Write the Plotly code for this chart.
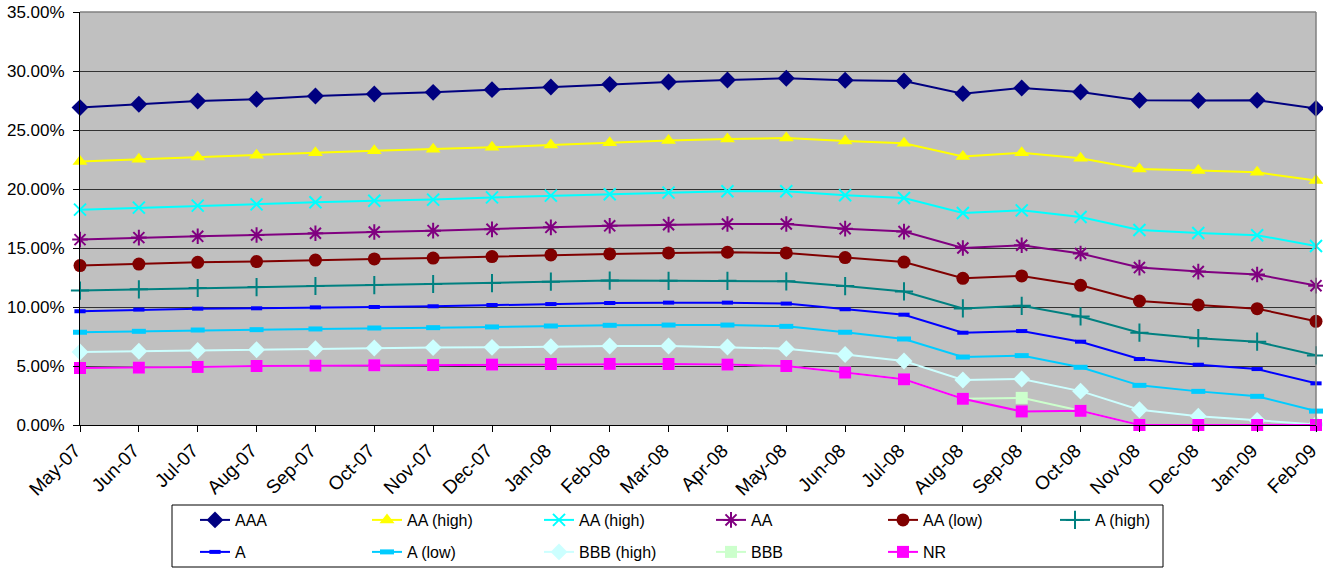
import plotly.graph_objects as go

months = ["May-07", "Jun-07", "Jul-07", "Aug-07", "Sep-07", "Oct-07", "Nov-07", "Dec-07",
          "Jan-08", "Feb-08", "Mar-08", "Apr-08", "May-08", "Jun-08", "Jul-08", "Aug-08",
          "Sep-08", "Oct-08", "Nov-08", "Dec-08", "Jan-09", "Feb-09"]

aaa = [26.90, 27.18, 27.46, 27.60, 27.88, 28.05, 28.19, 28.42, 28.65, 28.87, 29.07, 29.24,
       29.38, 29.21, 29.15, 28.08, 28.56, 28.22, 27.52, 27.50, 27.52, 26.83]
aa_high_y = [22.32, 22.52, 22.71, 22.86, 23.08, 23.25, 23.36, 23.53, 23.73, 23.93, 24.10, 24.24,
             24.32, 24.07, 23.87, 22.75, 23.08, 22.60, 21.69, 21.56, 21.41, 20.71]
aa_high_c = [18.25, 18.42, 18.59, 18.70, 18.87, 19.01, 19.10, 19.29, 19.44, 19.56, 19.69, 19.81,
             19.81, 19.47, 19.24, 17.97, 18.19, 17.63, 16.53, 16.27, 16.08, 15.17]
aa = [15.71, 15.88, 15.99, 16.10, 16.25, 16.36, 16.47, 16.58, 16.75, 16.88, 16.98, 17.03,
      17.03, 16.64, 16.39, 15.00, 15.23, 14.53, 13.34, 13.00, 12.75, 11.81]
aa_low = [13.51, 13.64, 13.79, 13.85, 13.98, 14.07, 14.15, 14.27, 14.41, 14.50, 14.58, 14.64,
          14.58, 14.19, 13.81, 12.43, 12.63, 11.84, 10.51, 10.18, 9.86, 8.79]
a_high = [11.39, 11.50, 11.61, 11.69, 11.78, 11.86, 11.95, 12.03, 12.15, 12.24, 12.22, 12.22,
          12.18, 11.77, 11.32, 9.88, 10.10, 9.20, 7.82, 7.36, 7.06, 5.90]
a_mid = [9.64, 9.78, 9.86, 9.89, 9.97, 10.00, 10.06, 10.17, 10.25, 10.34, 10.37, 10.37,
         10.29, 9.81, 9.35, 7.82, 7.96, 7.06, 5.59, 5.11, 4.74, 3.53]
a_low = [7.86, 7.94, 8.05, 8.08, 8.14, 8.22, 8.25, 8.31, 8.39, 8.45, 8.47, 8.47,
         8.36, 7.86, 7.29, 5.76, 5.88, 4.89, 3.36, 2.85, 2.43, 1.18]
bbb_high = [6.19, 6.25, 6.31, 6.38, 6.47, 6.52, 6.56, 6.58, 6.64, 6.69, 6.69, 6.61,
            6.47, 5.98, 5.42, 3.81, 3.90, 2.87, 1.29, 0.75, 0.38, 0.05]
bbb = [4.83, 4.86, 4.92, 5.00, 5.03, 5.06, 5.08, 5.12, 5.17, 5.18, 5.17, 5.12,
       5.00, 4.44, 3.87, 2.22, 2.30, 1.20, 0.00, 0.00, 0.00, 0.00]
nr = [4.83, 4.86, 4.92, 5.00, 5.03, 5.06, 5.08, 5.12, 5.17, 5.18, 5.17, 5.12,
      5.00, 4.44, 3.87, 2.22, 1.15, 1.20, 0.00, 0.00, 0.00, 0.00]

series = [
    ("AAA", aaa, "#000080", dict(symbol="diamond", size=13), "legend"),
    ("AA (high)", aa_high_y, "#FFFF00", dict(symbol="triangle-up", size=13), "legend"),
    ("AA (high)", aa_high_c, "#00FFFF", dict(symbol="x-thin-open", size=12, line=dict(width=2, color="#00FFFF")), "legend"),
    ("AA", aa, "#800080", dict(symbol="asterisk-open", size=13, line=dict(width=2, color="#800080")), "legend"),
    ("AA (low)", aa_low, "#800000", dict(symbol="circle", size=13), "legend"),
    ("A (high)", a_high, "#008080", dict(symbol="cross-thin-open", size=13, line=dict(width=2, color="#008080")), "legend"),
    ("A", a_mid, "#0000FF", dict(symbol="line-ew-open", size=8, line=dict(width=4, color="#0000FF")), "legend2"),
    ("A (low)", a_low, "#00CCFF", dict(symbol="line-ew-open", size=10, line=dict(width=5, color="#00CCFF")), "legend2"),
    ("BBB (high)", bbb_high, "#CCFFFF", dict(symbol="diamond", size=13), "legend2"),
    ("BBB", bbb, "#CCFFCC", dict(symbol="square", size=12), "legend2"),
    ("NR", nr, "#FF00FF", dict(symbol="square", size=12), "legend2"),
]

fig = go.Figure()
for name, vals, color, mk, lg in series:
    m = dict(color=color, **mk)
    fig.add_trace(go.Scatter(x=months, y=vals, name=name, mode="lines+markers",
                             line=dict(color=color, width=2), marker=m,
                             cliponaxis=False, legend=lg))

FONT = "Liberation Sans, Arial, sans-serif"
W, H = 1323, 571
PLOT_L, PLOT_R, PLOT_T, PLOT_B = 80, 1316, 12, 425
L, R, T, B = PLOT_L, W - PLOT_R, PLOT_T, H - PLOT_B
pw, ph = PLOT_R - PLOT_L, PLOT_B - PLOT_T

def px(xpix):
    return (xpix - PLOT_L) / pw

def py(ypix):
    return (PLOT_B - ypix) / ph

legend_common = dict(orientation="h", xanchor="left", yanchor="top",
                     font=dict(family=FONT, size=16, color="#000000"),
                     bgcolor="rgba(0,0,0,0)", borderwidth=0,
                     entrywidth=127, entrywidthmode="pixels",
                     itemclick=False, tracegroupgap=0)

fig.update_layout(
    width=W, height=H,
    margin=dict(l=L, r=R, t=T, b=B, autoexpand=False),
    paper_bgcolor="#FFFFFF",
    plot_bgcolor="#C0C0C0",
    font=dict(family=FONT, size=16, color="#000000"),
    showlegend=True,
    hovermode=False,
    legend=dict(x=px(195), y=py(503), **legend_common),
    legend2=dict(x=px(195), y=py(535), **legend_common),
    xaxis=dict(type="category", range=[0, len(months) - 1], showgrid=False,
               showline=True, linecolor="#000000", linewidth=1,
               ticks="outside", ticklen=6, tickcolor="#000000",
               tickangle=-45, tickfont=dict(family=FONT, size=19),
               ticklabelshift=-5, ticklabeloverflow="allow",
               zeroline=False, automargin=False),
    yaxis=dict(range=[0, 35], dtick=5, tickformat=".2f", ticksuffix="%",
               showgrid=True, gridcolor="#333333", gridwidth=1,
               showline=True, linecolor="#000000", linewidth=1,
               ticks="outside", ticklen=6, tickcolor="#000000",
               ticklabelstandoff=5, ticklabeloverflow="allow",
               tickfont=dict(family=FONT, size=17), zeroline=False, automargin=False),
    shapes=[
        dict(type="line", xref="paper", yref="paper", x0=0, x1=1, y0=1, y1=1,
             line=dict(color="#808080", width=1.5)),
        dict(type="line", xref="paper", yref="paper", x0=1, x1=1, y0=0, y1=1,
             line=dict(color="#808080", width=1.5)),
        dict(type="rect", xref="paper", yref="paper",
             x0=px(172), x1=px(1163), y0=py(567), y1=py(505),
             line=dict(color="#000000", width=1), fillcolor="rgba(0,0,0,0)"),
    ],
)

fig.write_html("out.html", config={"displayModeBar": False},
               post_script="document.body.style.margin='0px';")
